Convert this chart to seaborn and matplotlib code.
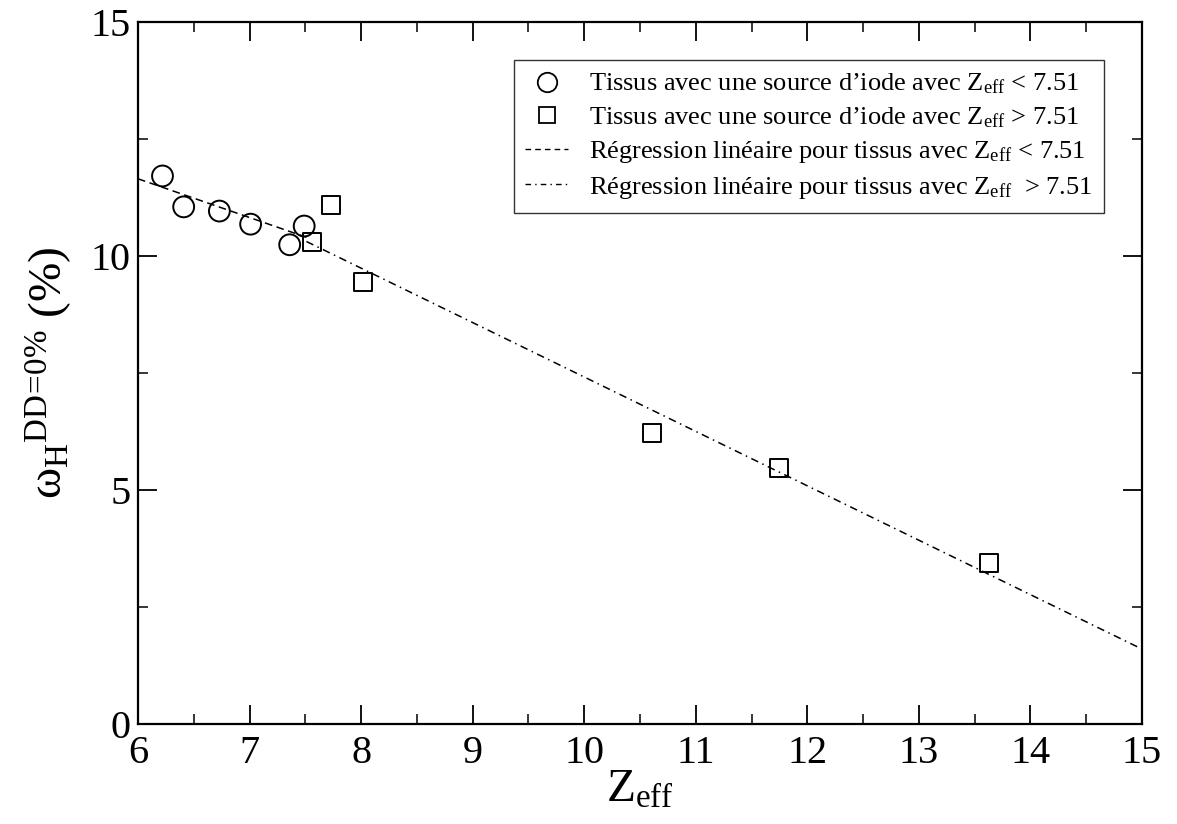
import matplotlib
matplotlib.use("Agg")
import matplotlib.pyplot as plt
import seaborn as sns
import pandas as pd
from matplotlib.ticker import MultipleLocator
from matplotlib.lines import Line2D

# Data
z_low = [6.22, 6.41, 6.73, 7.01, 7.36, 7.49]
w_low = [11.71, 11.05, 10.96, 10.68, 10.24, 10.64]
z_high = [7.56, 7.73, 8.02, 10.61, 11.75, 13.63]
w_high = [10.30, 11.09, 9.44, 6.22, 5.47, 3.44]

fit_low_x = [6.0, 7.51]
fit_low_y = [11.65, 10.40]
fit_high_x = [7.51, 15.0]
fit_high_y = [10.31, 1.60]

labels = [
    "Tissus avec une source d\u2019iode avec $\\mathrm{Z}_{\\mathrm{eff}}$ < 7.51",
    "Tissus avec une source d\u2019iode avec $\\mathrm{Z}_{\\mathrm{eff}}$ > 7.51",
    "R\u00e9gression lin\u00e9aire pour tissus avec $\\mathrm{Z}_{\\mathrm{eff}}$ < 7.51",
    "R\u00e9gression lin\u00e9aire pour tissus avec $\\mathrm{Z}_{\\mathrm{eff}}$  > 7.51",
]

sns.set_theme(style="ticks")
plt.rcParams["font.family"] = ["Liberation Serif", "DejaVu Serif"]
plt.rcParams["mathtext.fontset"] = "custom"
plt.rcParams["mathtext.rm"] = "Liberation Serif"
plt.rcParams["mathtext.it"] = "Liberation Serif:italic"
plt.rcParams["mathtext.bf"] = "Liberation Serif:bold"
for key in ["text.color", "axes.labelcolor", "xtick.color", "ytick.color", "axes.edgecolor"]:
    plt.rcParams[key] = "black"

fig = plt.figure(figsize=(11.77, 8.24), dpi=100)
ax = fig.add_axes([0.1172, 0.1214, 0.8531, 0.8519])

df_low = pd.DataFrame({"z": z_low, "w": w_low})
df_high = pd.DataFrame({"z": z_high, "w": w_high})
df_fl = pd.DataFrame({"z": fit_low_x, "w": fit_low_y})
df_fh = pd.DataFrame({"z": fit_high_x, "w": fit_high_y})

sns.lineplot(data=df_fl, x="z", y="w", ax=ax, color="black", lw=1.1,
             linestyle=(0, (5, 3)), legend=False)
sns.lineplot(data=df_fh, x="z", y="w", ax=ax, color="black", lw=1.1,
             linestyle=(0, (5, 3, 1, 3)), legend=False)
sns.scatterplot(data=df_low, x="z", y="w", ax=ax, marker="o", s=15**2,
                facecolor="none", edgecolor="black", linewidth=1.4, legend=False, zorder=3)
sns.scatterplot(data=df_high, x="z", y="w", ax=ax, marker="s", s=13**2,
                facecolor="none", edgecolor="black", linewidth=1.4, legend=False, zorder=3)

ax.set_xlim(6, 15)
ax.set_ylim(0, 15)
ax.xaxis.set_major_locator(MultipleLocator(1))
ax.xaxis.set_minor_locator(MultipleLocator(0.5))
ax.yaxis.set_major_locator(MultipleLocator(5))
ax.yaxis.set_minor_locator(MultipleLocator(2.5))
ax.tick_params(which="both", direction="in", top=True, right=True, color="black",
               labelcolor="black")
ax.tick_params(which="major", length=14, width=1.3, labelsize=29)
ax.tick_params(axis="x", which="major", pad=8)
ax.tick_params(axis="y", which="major", pad=5)
ax.tick_params(which="minor", length=7, width=1.1)
for sp in ax.spines.values():
    sp.set_linewidth(1.6)
    sp.set_color("black")

ax.set_xlabel("$\\mathrm{Z}_{\\mathrm{eff}}$", fontsize=34, labelpad=-2)
ax.set_ylabel("$\\mathrm{\u03c9}_{\\mathrm{H}}{}^{\\mathrm{DD\\!=\\!0\\%}}$ (%)",
              fontsize=34, labelpad=12)

handles = [
    Line2D([], [], marker="o", ls="none", markersize=14, markerfacecolor="none",
           markeredgecolor="black", markeredgewidth=1.3),
    Line2D([], [], marker="s", ls="none", markersize=12, markerfacecolor="none",
           markeredgecolor="black", markeredgewidth=1.3),
    Line2D([], [], color="black", lw=1.0, linestyle=(0, (4, 3))),
    Line2D([], [], color="black", lw=1.0, linestyle=(0, (4, 3, 1, 3))),
]
leg = ax.legend(handles, labels, loc="upper right", bbox_to_anchor=(0.962, 0.946),
                borderaxespad=0, fontsize=19, frameon=True, fancybox=False,
                edgecolor="black", handlelength=1.6, handletextpad=0.8,
                labelspacing=0.35, borderpad=0.45)
leg.get_frame().set_linewidth(1.0)
for t in leg.get_texts():
    t.set_color("black")

fig.savefig("out.png", dpi=100)
